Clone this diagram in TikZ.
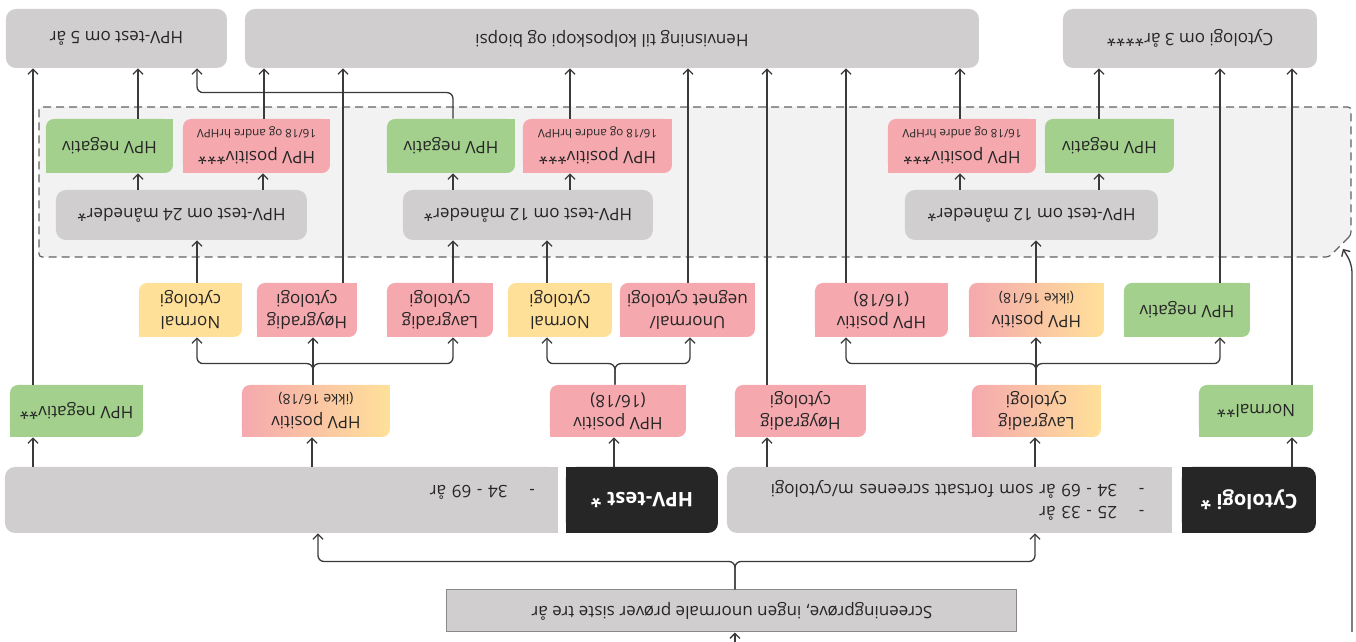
\documentclass[tikz,border=0pt]{standalone}
\usepackage{fontspec}
\setmainfont{Open Sans}
\usepackage{tikz}
\usetikzlibrary{arrows.meta, positioning}
\definecolor{boks}{HTML}{D0CECE}
\definecolor{mork}{HTML}{262626}
\definecolor{grnn}{HTML}{A3D08C}
\definecolor{rosa}{HTML}{F5A9AE}
\definecolor{gul}{HTML}{FFE099}
\definecolor{lysgraa}{HTML}{F2F2F2}
\definecolor{strek}{HTML}{3A3A3A}
\newcommand{\sm}[1]{{\fontsize{7}{9}\selectfont #1}}
\newcommand{\smr}[1]{{\fontsize{5.8}{7.5}\selectfont #1}}
\newcommand{\flyt}[3][0pt]{\draw[pil] ([xshift=#1]#2.south) coordinate (t) -- (t |- #3.north);}
\tikzset{
  tekst/.style={inner sep=1pt, align=center, text=mork, font=\fontsize{8.5}{11}\selectfont},
  pil/.style={draw=strek, line width=0.65pt, -{Straight Barb[length=2.5pt,width=5pt]}},
  grenpil/.style={pil, rounded corners=3pt},
  sone/.style={draw=strek!80, fill=lysgraa, line width=0.6pt, dash pattern=on 4pt off 2.5pt, rounded corners=1.5pt},
  skjerm/.style={tekst, fill=boks, draw=strek!60, line width=0.5pt},
  graa/.style={tekst, fill=boks, rounded corners=5pt},
  diag/.style={tekst, fill=#1, rounded corners=4pt,
    append after command={\pgfextra{
      \fill[#1, sharp corners] (\tikzlastnode.north east) rectangle ++(-4pt,-4pt);
      \fill[#1, sharp corners] (\tikzlastnode.south west) rectangle ++(4pt,4pt);}}},
  overgang/.style={tekst, left color=rosa, right color=gul, rounded corners=4pt,
    append after command={\pgfextra{
      \fill[rosa, sharp corners] (\tikzlastnode.north east) rectangle ++(-4pt,-4pt);
      \fill[gul, sharp corners] (\tikzlastnode.south west) rectangle ++(4pt,4pt);}}},
  vrund/.style={tekst, fill=#1, rounded corners=5pt,
    append after command={\pgfextra{
      \fill[#1, sharp corners] (\tikzlastnode.north east) rectangle ++(-5pt,-5pt);
      \fill[#1, sharp corners] (\tikzlastnode.south east) rectangle ++(-5pt,5pt);}}},
  hrund/.style={tekst, fill=#1, rounded corners=5pt,
    append after command={\pgfextra{
      \fill[#1, sharp corners] (\tikzlastnode.north west) rectangle ++(5pt,-5pt);
      \fill[#1, sharp corners] (\tikzlastnode.south west) rectangle ++(5pt,5pt);}}},
  svart/.style={text=white, font=\bfseries\fontsize{10}{12}\selectfont}
}

\begin{document}
\begin{tikzpicture}[x=0.5pt, y=-0.5pt, rotate=180, transform shape]
\useasboundingbox (0,0) rectangle (1356,642);
% stiplet område
\draw[sone] (5,407) -- (27,385) -- (1317,385) -- (1317,535) -- (5,535) -- cycle;

% screening
\node[skjerm, minimum width=285pt, minimum height=21pt] (screen) at (624,31) {Screeningprøve, ingen unormale prøver siste tre år};
\coordinate (inn) at (621,0);
\coordinate (tilbake) at (4,10);
\coordinate (hjorne) at (13,393);

% Cytologi og HPV-test
\node[vrund=mork, svart, minimum width=67pt, minimum height=33pt] (cytdark) at (107,142) {Cytologi *};
\node[hrund=boks, minimum width=222.5pt, minimum height=33pt, align=left, text width=195pt] (cytgrey) at (406.5,142) {-\hspace{11pt}25 - 33 år\\-\hspace{11pt}34 - 69 år som fortsatt screenes m/cytologi};
\node[vrund=mork, svart, minimum width=76pt, minimum height=33pt] (hpvdark) at (714,142) {HPV-test *};
\node[hrund=boks, minimum width=276.5pt, minimum height=33pt, align=left, text width=253.5pt] (hpvgrey) at (1074.5,142) {\raisebox{-4pt}[\height][\depth]{-\hspace{11pt}34 - 69 år}};

% nivå 2
\node[diag=grnn, minimum width=57pt, minimum height=26pt] (n2a) at (100,231) {Normal**};
\node[overgang, minimum width=64.5pt, minimum height=26pt] (n2b) at (319.5,231) {Lavgradig\\cytologi};
\node[diag=rosa, minimum width=65.5pt, minimum height=26pt] (n2c) at (555.5,231) {Høygradig\\cytologi};
\node[diag=rosa, minimum width=68pt, minimum height=26pt] (n2d) at (738,231) {HPV positiv\\(16/18)};
\node[overgang, minimum width=74pt, minimum height=26pt] (n2e) at (1040,231) {HPV positiv\\\sm{(ikke 16/18)}};
\node[diag=grnn, minimum width=66.5pt, minimum height=26pt] (n2f) at (1279.5,231) {HPV negativ**};

% nivå 3
\node[diag=grnn, minimum width=63pt, minimum height=27pt] (n3a) at (169,332) {HPV negativ};
\node[overgang, minimum width=67.5pt, minimum height=27pt] (n3b) at (319.5,332) {HPV positiv\\\sm{(ikke 16/18)}};
\node[diag=rosa, minimum width=66.5pt, minimum height=27pt] (n3c) at (474.5,332) {HPV positiv\\(16/18)};
\node[diag=rosa, minimum width=67.5pt, minimum height=27pt] (n3d) at (668.5,332) {Unormal/\\uegnet cytologi};
\node[diag=gul, minimum width=52pt, minimum height=27pt] (n3e) at (796,332) {Normal\\cytologi};
\node[diag=rosa, minimum width=53pt, minimum height=27pt] (n3f) at (916,332) {Lavgradig\\cytologi};
\node[diag=rosa, minimum width=50pt, minimum height=27pt] (n3g) at (1049,332) {Høygradig\\cytologi};
\node[diag=gul, minimum width=51.5pt, minimum height=27pt] (n3h) at (1165.5,332) {Normal\\cytologi};

% kontroller
\node[graa, minimum width=126.5pt, minimum height=25pt] (g12a) at (324.5,427) {HPV-test om 12 måneder*};
\node[graa, minimum width=125pt, minimum height=25pt] (g12b) at (828,427) {HPV-test om 12 måneder*};
\node[graa, minimum width=125.5pt, minimum height=25pt] (g24) at (1174.5,427) {HPV-test om 24 måneder*};

\node[diag=grnn, minimum width=64.5pt, minimum height=27pt] (n4a) at (246.5,496) {HPV negativ};
\node[diag=rosa, minimum width=74pt, minimum height=27pt] (n4b) at (394,496) {HPV positiv***\\\smr{16/18 og andre hrHPV}};
\node[diag=rosa, minimum width=74.5pt, minimum height=27pt] (n4c) at (758.5,496) {HPV positiv***\\\smr{16/18 og andre hrHPV}};
\node[diag=grnn, minimum width=64pt, minimum height=27pt] (n4d) at (905,496) {HPV negativ};
\node[diag=rosa, minimum width=73.5pt, minimum height=27pt] (n4e) at (1099.5,496) {HPV positiv***\\\smr{16/18 og andre hrHPV}};
\node[diag=grnn, minimum width=63.5pt, minimum height=27pt] (n4f) at (1246.5,496) {HPV negativ};

% utfall
\node[graa, minimum width=127pt, minimum height=29.5pt] (b3y) at (166,603.5) {Cytologi om 3 år****};
\node[graa, minimum width=367pt, minimum height=29.5pt] (bhen) at (744,603.5) {Henvisning til kolposkopi og biopsi};
\node[graa, minimum width=110.5pt, minimum height=29.5pt] (b5y) at (1239.5,603.5) {HPV-test om 5 år};

% piler
\draw[pil] (inn) -- (inn |- screen.north);
\draw[grenpil] ([xshift=-1.5pt]screen.south) -- ++(0,-14pt) -| ([xshift=-42.75pt]cytgrey.north);
\draw[grenpil] ([xshift=-1.5pt]screen.south) -- ++(0,-14pt) -| ([xshift=-18.25pt]hpvgrey.north);
\draw[pil, rounded corners=4pt] (tilbake) -- ++(0,-184pt) -- (hjorne);

\flyt[-21.5pt]{cytdark}{n2a}
\flyt[-42.75pt]{cytgrey}{n2b}
\flyt[91.25pt]{cytgrey}{n2c}
\flyt[14pt]{hpvdark}{n2d}
\flyt[-15.25pt]{hpvgrey}{n2e}
\flyt[124.25pt]{hpvgrey}{n2f}

\draw[grenpil] ([xshift=0.25pt]n2b.south) -- ++(0,-10.5pt) -| ([xshift=-16.5pt]n3a.north);
\draw[grenpil] ([xshift=0.25pt]n2b.south) -- ++(0,-10.5pt) -| ([xshift=17.75pt]n3c.north);
\flyt[0.25pt]{n2b}{n3b}
\draw[grenpil] ([xshift=1.5pt]n2d.south) -- ++(0,-10.5pt) -| ([xshift=-1.25pt]n3d.north);
\draw[grenpil] ([xshift=1.5pt]n2d.south) -- ++(0,-10.5pt) -| ([xshift=6.5pt]n3e.north);
\draw[grenpil] ([xshift=1.5pt]n2e.south) -- ++(0,-10.5pt) -| ([xshift=-6.5pt]n3f.north);
\draw[grenpil] ([xshift=1.5pt]n2e.south) -- ++(0,-10.5pt) -| ([xshift=-3.25pt]n3h.north);
\flyt[1.5pt]{n2e}{n3g}

\flyt[-18pt]{n2a}{b3y}
\flyt[16.75pt]{n2c}{bhen}
\flyt[21.75pt]{n2f}{b5y}
\flyt[-16.5pt]{n3a}{b3y}
\flyt[0.25pt]{n3b}{g12a}
\flyt[17.75pt]{n3c}{bhen}
\flyt[-0.25pt]{n3d}{bhen}
\flyt[6.5pt]{n3e}{g12b}
\flyt[-6.5pt]{n3f}{g12b}
\flyt[-18pt]{n3g}{bhen}
\flyt[-3.25pt]{n3h}{g24}

\flyt[-33.75pt]{g12a}{n4a}
\flyt[35.75pt]{g12a}{n4b}
\flyt[-21pt]{g12b}{n4c}
\flyt[37.5pt]{g12b}{n4d}
\flyt[-40.75pt]{g24}{n4e}
\flyt[21.75pt]{g24}{n4f}

\flyt[5.25pt]{n4a}{b3y}
\flyt[1pt]{n4b}{bhen}
\flyt[13.75pt]{n4c}{bhen}
\draw[grenpil] ([xshift=-1pt]n4d.south) -- ++(0,-13pt) -| ([xshift=-40.25pt]b5y.north);
\flyt[-3.75pt]{n4e}{bhen}
\flyt[-14.25pt]{n4f}{b5y}
\end{tikzpicture}
\end{document}
